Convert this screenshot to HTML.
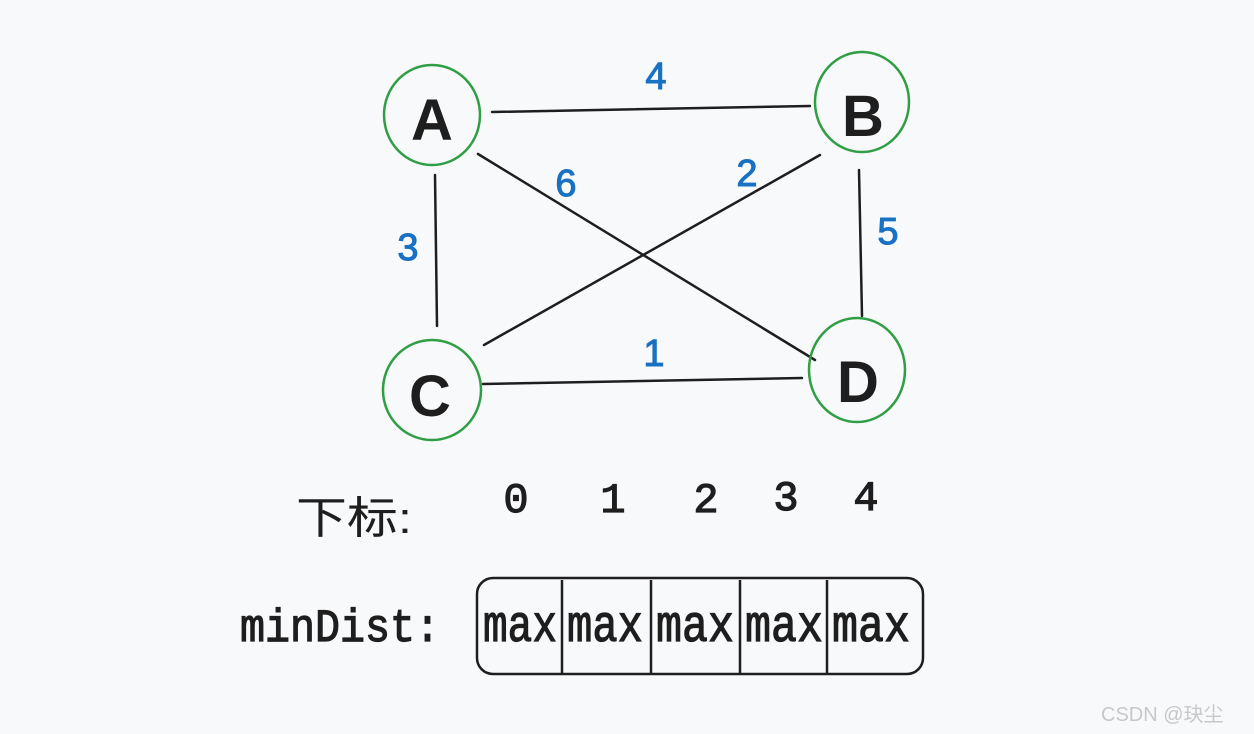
<!DOCTYPE html>
<html><head><meta charset="utf-8"><style>
html,body{margin:0;padding:0;background:#f8f9fb;}
svg{display:block}
</style></head><body>
<svg width="1254" height="734" viewBox="0 0 1254 734" xmlns="http://www.w3.org/2000/svg">
<rect width="1254" height="734" fill="#f8f9fb"/>
<g stroke="#1e1e1e" stroke-width="2.5" stroke-linecap="round" fill="none">
<line x1="492" y1="112" x2="810" y2="106"/>
<line x1="435" y1="175" x2="437" y2="326"/>
<line x1="478" y1="154" x2="815" y2="360"/>
<line x1="484" y1="345" x2="820" y2="155"/>
<line x1="859" y1="170" x2="862" y2="316"/>
<line x1="483" y1="384" x2="802" y2="378"/>
</g>
<g stroke="#2f9e44" stroke-width="2.5" fill="none">
<ellipse cx="432" cy="115" rx="48" ry="50"/>
<ellipse cx="862" cy="102" rx="47" ry="50"/>
<ellipse cx="432" cy="390" rx="49" ry="50"/>
<ellipse cx="857" cy="370" rx="48" ry="52"/>
</g>
<g font-family="Liberation Sans, sans-serif" font-weight="bold" font-size="58" fill="#1e1e1e" text-anchor="middle">
<text x="432" y="140">A</text>
<text x="863" y="136">B</text>
<text x="430" y="416">C</text>
<text x="858" y="402">D</text>
</g>
<g font-family="Liberation Sans, sans-serif" font-size="38" fill="#1971c2" stroke="#1971c2" stroke-width="1" text-anchor="middle">
<text x="656" y="89">4</text>
<text x="566" y="196">6</text>
<text x="747" y="186">2</text>
<text x="408" y="260">3</text>
<text x="888" y="244">5</text>
<text x="654" y="366">1</text>
</g>
<text x="296" y="533" font-family="Liberation Sans, 'Noto Sans CJK SC', sans-serif" font-size="44" fill="#1e1e1e" textLength="116" lengthAdjust="spacingAndGlyphs">下标:</text>
<g font-family="Liberation Mono, monospace" font-size="42" fill="#1e1e1e" stroke="#1e1e1e" stroke-width="1.2" text-anchor="middle">
<text x="516" y="512">0</text>
<text x="613" y="512">1</text>
<text x="706" y="512">2</text>
<text x="786" y="510">3</text>
<text x="866" y="510">4</text>
</g>
<text x="240" y="641" font-family="Liberation Mono, monospace" font-size="46" fill="#1e1e1e" stroke="#1e1e1e" stroke-width="1.2" textLength="200" lengthAdjust="spacingAndGlyphs">minDist:</text>
<rect x="477" y="578" width="446" height="96" rx="16" fill="none" stroke="#1e1e1e" stroke-width="2.5"/>
<g stroke="#1e1e1e" stroke-width="2.5">
<line x1="562" y1="580" x2="562" y2="673"/>
<line x1="651" y1="580" x2="651" y2="673"/>
<line x1="740" y1="580" x2="740" y2="673"/>
<line x1="827" y1="580" x2="827" y2="673"/>
</g>
<g font-family="Liberation Mono, monospace" font-size="52" fill="#1e1e1e" stroke="#1e1e1e" stroke-width="1.2">
<text x="483" y="641" textLength="74" lengthAdjust="spacingAndGlyphs">max</text>
<text x="567" y="641" textLength="76" lengthAdjust="spacingAndGlyphs">max</text>
<text x="656" y="641" textLength="78" lengthAdjust="spacingAndGlyphs">max</text>
<text x="745" y="641" textLength="78" lengthAdjust="spacingAndGlyphs">max</text>
<text x="832" y="641" textLength="78" lengthAdjust="spacingAndGlyphs">max</text>
</g>
<text x="1101" y="721" font-family="Liberation Sans, 'Noto Sans CJK SC', sans-serif" font-size="20" fill="#c8c8c8">CSDN @玦尘</text>
</svg>
</body></html>
